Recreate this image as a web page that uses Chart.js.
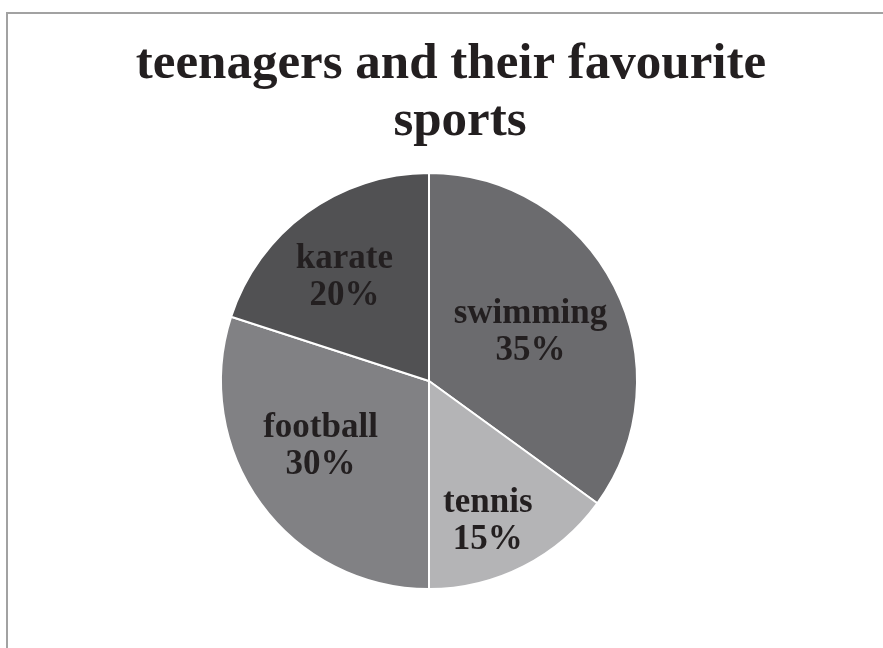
<!DOCTYPE html>
<html lang="en">
<head>
  <meta charset="UTF-8">
  <title>teenagers and their favourite sports</title>
  <script src="https://cdn.jsdelivr.net/npm/chart.js"></script>
  <style>
    body {
      margin: 0;
      background: #fff;
      overflow: hidden;
    }
    /* frame: left and top edges visible, right and bottom run off the page */
    .frame {
      position: absolute;
      left: 6px;
      top: 12px;
      width: 1000px;
      height: 800px;
      border: 2px solid #a2a2a2;
    }
    .wrap {
      position: absolute;
      left: 0;
      top: 0;
      width: 883px;
      height: 648px;
    }
  </style>
</head>
<body>
<div class="frame"></div>
<div class="wrap">
  <canvas id="pieChart" width="883" height="648"></canvas>
</div>

<script>
  // Chart data
  const sports = ['swimming', 'tennis', 'football', 'karate'];
  const shares = [35, 15, 30, 20];
  const sliceColors = ['#6b6b6e', '#b4b4b6', '#818184', '#515153'];
  const titleLines = ['teenagers and their favourite', 'sports'];

  // label placement inside each slice: fraction of the radius, and a nudge
  // (degrees) away from the slice's middle angle
  const labelRadius = [0.552, 0.709, 0.595, 0.665];
  const labelNudge = [-0.9, 3.5, 7.2, -1.7];

  const textColor = '#231f20';
  const serif = "'Liberation Serif', 'DejaVu Serif', serif";

  // Title drawn as two centred lines above the pie
  const titlePlugin = {
    id: 'titleLines',
    afterDraw(chart) {
      const ctx = chart.ctx;
      ctx.save();
      ctx.fillStyle = textColor;
      ctx.font = 'bold 51px ' + serif;
      ctx.textAlign = 'center';
      ctx.textBaseline = 'alphabetic';
      ctx.fillText(titleLines[0], 451, 78);
      ctx.fillText(titleLines[1], 460, 135);
      ctx.restore();
    }
  };

  // Category name and percentage inside each slice
  const sliceLabels = {
    id: 'sliceLabels',
    afterDatasetsDraw(chart) {
      const ctx = chart.ctx;
      const meta = chart.getDatasetMeta(0);
      ctx.save();
      ctx.fillStyle = textColor;
      ctx.font = 'bold 35px ' + serif;
      ctx.textAlign = 'center';
      ctx.textBaseline = 'alphabetic';
      meta.data.forEach((arc, i) => {
        const p = arc.getProps(['x', 'y', 'startAngle', 'endAngle', 'outerRadius'], true);
        const mid = (p.startAngle + p.endAngle) / 2 + labelNudge[i] * Math.PI / 180;
        const r = p.outerRadius * labelRadius[i];
        const cx = p.x + Math.cos(mid) * r;
        const cy = p.y + Math.sin(mid) * r;
        ctx.fillText(sports[i], cx, cy - 4);
        ctx.fillText(shares[i] + '%', cx, cy + 33);
      });
      ctx.restore();
    }
  };

  new Chart(document.getElementById('pieChart'), {
    type: 'pie',
    data: {
      labels: sports,
      datasets: [{
        data: shares,
        backgroundColor: sliceColors,
        borderColor: '#ffffff',
        borderWidth: 2
      }]
    },
    options: {
      responsive: false,
      animation: false,
      layout: {
        padding: { left: 220, right: 245, top: 172, bottom: 58 }
      },
      plugins: {
        legend: { display: false },
        tooltip: { enabled: false },
        title: { display: false }
      }
    },
    plugins: [titlePlugin, sliceLabels]
  });
</script>
</body>
</html>
